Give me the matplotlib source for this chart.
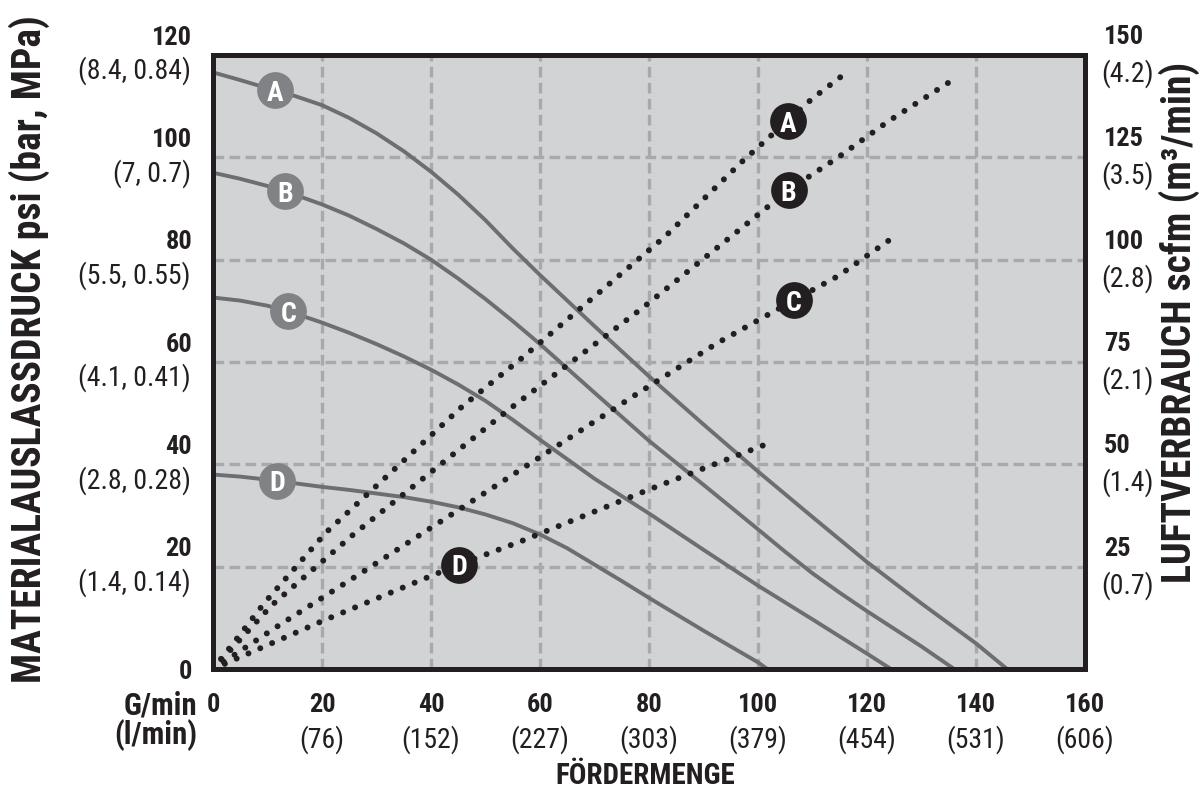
import matplotlib
matplotlib.use("Agg")
import matplotlib.pyplot as plt
from matplotlib import font_manager

# ---------------- data ----------------
# Material outlet pressure curves (psi) vs flow (G/min)
curve_A_x = [0, 5, 10, 15, 20, 25, 30, 35, 40, 45, 50, 55, 60, 70, 80, 90, 100, 110, 120, 130, 140, 145.7]
curve_A_y = [116.6, 115.1, 113.5, 112.0, 110.2, 107.7, 104.7, 101.2, 97.2, 92.7, 87.7, 82.2, 77.0, 67.0,
             57.2, 47.8, 38.6, 29.7, 20.9, 12.8, 5.0, 0]
curve_B_x = [0, 5, 10, 15, 20, 25, 30, 35, 40, 45, 50, 55, 60, 70, 80, 90, 100, 105, 110, 115, 120, 130, 136]
curve_B_y = [97, 95.8, 94.4, 92.7, 90.8, 88.6, 86.0, 83.2, 80.0, 76.3, 72.3, 68.0, 63.5, 54.0, 44.6,
             36.0, 27.3, 22.9, 18.7, 14.9, 11.3, 4.4, 0]
curve_C_x = [0, 5, 10, 15, 20, 25, 30, 35, 40, 45, 50, 55, 60, 70, 80, 90, 100, 110, 120, 124.4]
curve_C_y = [72.6, 72.0, 71.0, 69.5, 67.7, 65.7, 63.5, 61.1, 58.5, 55.6, 52.4, 48.7, 44.8, 37.2, 30.4,
             23.3, 16.3, 9.7, 3.0, 0]
curve_D_x = [0, 5, 10, 15, 20, 25, 30, 35, 40, 45, 50, 55, 60, 65, 70, 75, 80, 85, 90, 95, 100, 101.7]
curve_D_y = [38, 37.6, 37.0, 36.3, 35.6, 35.0, 34.3, 33.6, 32.7, 31.6, 30.2, 28.5, 26.3, 23.6, 20.4,
             17.2, 13.9, 10.7, 7.5, 4.4, 1.3, 0]

# Air consumption curves (scfm) vs flow (G/min)
air_A_x = [0, 4.2, 9.4, 20.7, 45.7, 56.8, 82.9, 97.2, 110, 116.8]
air_A_y = [0, 7.1, 16.1, 33.3, 64.1, 76.1, 105.6, 124.1, 139.4, 146.3]
air_B_x = [0, 10.8, 25.7, 54.3, 78.9, 96.4, 105.5, 114.7, 123.9, 135.6]
air_B_y = [0, 15.6, 32.8, 63.4, 88.3, 107.1, 116.9, 125, 133.8, 143.8]
air_C_x = [0, 11.8, 28.4, 56.8, 78, 92.5, 106.6, 114.7, 123.9]
air_C_y = [0, 10.4, 24.5, 49, 67.4, 79.6, 90.1, 96, 104.6]
air_D_x = [0, 12.5, 20.2, 38.3, 45.1, 56.7, 80.3, 101.3]
air_D_y = [0, 7.3, 11.8, 21.8, 25.5, 31.3, 44, 54.8]

curve_names = ["A", "B", "C", "D"]
press_label_x = [11.4, 13.3, 13.8, 11.8]
press_label_y = [113.1, 93.4, 69.9, 36.8]
air_label_x = [105.5, 105.6, 106.6, 45.1]
air_label_y = [133.8, 116.9, 90.1, 25.5]

x_ticks = [0, 20, 40, 60, 80, 100, 120, 140, 160]
x_sub = ["", "(76)", "(152)", "(227)", "(303)", "(379)", "(454)", "(531)", "(606)"]
y_ticks = [0, 20, 40, 60, 80, 100, 120]
y_sub = ["", "(1.4, 0.14)", "(2.8, 0.28)", "(4.1, 0.41)", "(5.5, 0.55)", "(7, 0.7)", "(8.4, 0.84)"]
r_ticks = [25, 50, 75, 100, 125, 150]
r_sub = ["(0.7)", "(1.4)", "(2.1)", "(2.8)", "(3.5)", "(4.2)"]

# ---------------- style ----------------
names = {f.name for f in font_manager.fontManager.ttflist}
cands = ['Liberation Sans Narrow', 'Roboto Condensed', 'DejaVu Sans Condensed', 'Liberation Sans', 'DejaVu Sans']
fam = [c for c in cands if c in names] or ['DejaVu Sans']
plt.rcParams['font.family'] = fam

BG = "#d1d3d4"
GRID = "#a7a9ac"
CURVE = "#6d6e71"
GRAYC = "#808285"
DARK = "#231f20"

W, H = 1201, 796
fig = plt.figure(figsize=(W / 100, H / 100), dpi=100)
L, R, T, B = 213, 1085, 55, 669
ax = fig.add_axes([L / W, 1 - B / H, (R - L) / W, (B - T) / H])
ax.set_facecolor(BG)
ax.set_xlim(0, 160)
ax.set_ylim(0, 120)
ax2 = ax.twinx()
ax2.set_ylim(0, 150)

for a in (ax, ax2):
    a.set_xticks(x_ticks)
    a.tick_params(length=0, labelbottom=False, labelleft=False, labelright=False)
    for s in a.spines.values():
        s.set_linewidth(3.6)
        s.set_color(DARK)
ax.set_yticks(y_ticks)
ax2.set_yticks(r_ticks)

# grid
for xv in x_ticks[1:-1]:
    ax.axvline(xv, color=GRID, lw=2.4, ls=(0, (3.2, 1.6)), zorder=1)
for yv in y_ticks[1:-1]:
    ax.axhline(yv, color=GRID, lw=2.4, ls=(0, (3.2, 1.6)), zorder=1)

# pressure curves
for xs, ys in [(curve_A_x, curve_A_y), (curve_B_x, curve_B_y),
               (curve_C_x, curve_C_y), (curve_D_x, curve_D_y)]:
    ax.plot(xs, ys, color=CURVE, lw=2.8, solid_capstyle='butt', solid_joinstyle='round', zorder=3)

for n, xv, yv in zip(curve_names, press_label_x, press_label_y):
    ax.scatter([xv], [yv], s=700, color=GRAYC, zorder=5, linewidths=0)
    ax.text(xv, yv, n, color="white", fontsize=20, fontweight="bold",
            ha="center", va="center_baseline", zorder=6)

# air curves (dotted)
for xs, ys in [(air_A_x, air_A_y), (air_B_x, air_B_y),
               (air_C_x, air_C_y), (air_D_x, air_D_y)]:
    ax2.plot(xs, ys, color=DARK, lw=4.3, ls=(0, (0.01, 2.15)),
             dash_capstyle='round', zorder=3)

for n, xv, yv in zip(curve_names, air_label_x, air_label_y):
    ax2.scatter([xv], [yv], s=700, color=DARK, zorder=5, linewidths=0)
    ax2.text(xv, yv, n, color="white", fontsize=20, fontweight="bold",
             ha="center", va="center_baseline", zorder=6)

# ---------------- tick labels ----------------
NUM = 19
SUB = 20
ytr = ax.get_yaxis_transform()
for yv, sub in zip(y_ticks, y_sub):
    if sub:
        ax.annotate(str(yv), (0, yv), xycoords=ytr, xytext=(-15, 12.5), textcoords="offset points",
                    ha="right", va="center", fontsize=NUM, fontweight="bold", color=DARK,
                    annotation_clip=False)
        ax.annotate(sub, (0, yv), xycoords=ytr, xytext=(-16, -11.5), textcoords="offset points",
                    ha="right", va="center", fontsize=SUB, color=DARK, annotation_clip=False)
    else:
        ax.annotate(str(yv), (0, yv), xycoords=ytr, xytext=(-15, -2), textcoords="offset points",
                    ha="right", va="center", fontsize=NUM, fontweight="bold", color=DARK,
                    annotation_clip=False)

rtr = ax2.get_yaxis_transform()
for yv, sub in zip(r_ticks, r_sub):
    ax2.annotate(str(yv), (1, yv), xycoords=rtr, xytext=(13.5, 13), textcoords="offset points",
                 ha="left", va="center", fontsize=NUM, fontweight="bold", color=DARK,
                 annotation_clip=False)
    ax2.annotate(sub, (1, yv), xycoords=rtr, xytext=(12, -13.5), textcoords="offset points",
                 ha="left", va="center", fontsize=SUB, color=DARK, annotation_clip=False)

xtr = ax.get_xaxis_transform()
for xv, sub in zip(x_ticks, x_sub):
    ax.annotate(str(xv), (xv, 0), xycoords=xtr, xytext=(0, -26), textcoords="offset points",
                ha="center", va="center", fontsize=NUM, fontweight="bold", color=DARK,
                annotation_clip=False)
    if sub:
        ax.annotate(sub, (xv, 0), xycoords=xtr, xytext=(0, -51), textcoords="offset points",
                    ha="center", va="center", fontsize=SUB, color=DARK, annotation_clip=False)

ax.annotate("G/min", (0, 0), xycoords="axes fraction", xytext=(-11, -26), textcoords="offset points",
            ha="right", va="center", fontsize=22, fontweight="bold", color=DARK, annotation_clip=False)
ax.annotate("(l/min)", (0, 0), xycoords="axes fraction", xytext=(-11, -47.5), textcoords="offset points",
            ha="right", va="center", fontsize=22, fontweight="bold", color=DARK, annotation_clip=False)

# ---------------- axis titles ----------------
fig.text(29 / W, 1 - 349 / H, "MATERIALAUSLASSDRUCK psi (bar, MPa)", rotation=90,
         ha="center", va="center", fontsize=28.5, fontweight="bold", color=DARK)
fig.text(1179 / W, 1 - 322 / H, "LUFTVERBRAUCH scfm (m³/min)", rotation=90,
         ha="center", va="center", fontsize=28.5, fontweight="bold", color=DARK)
fig.text(645 / W, 1 - 776 / H, "FÖRDERMENGE", ha="center", va="center",
         fontsize=21, fontweight="bold", color=DARK)

fig.savefig("out.png", dpi=100, facecolor="white")
